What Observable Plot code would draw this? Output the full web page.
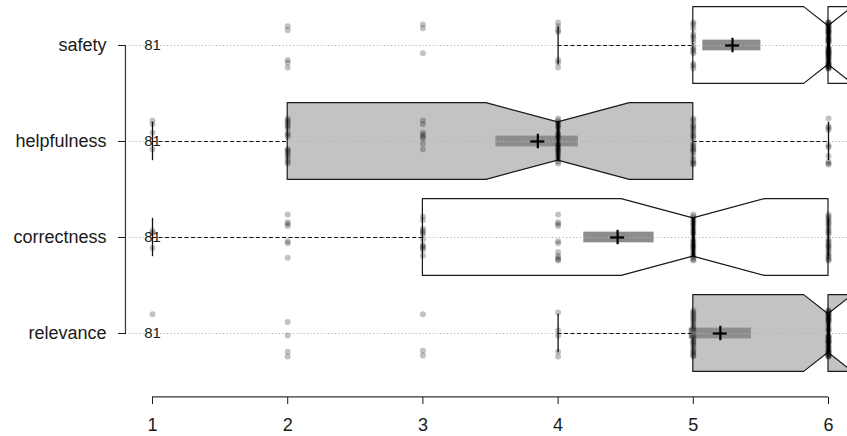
<!DOCTYPE html>
<html><head><meta charset="utf-8">
<script src="https://cdn.jsdelivr.net/npm/d3@7"></script>
<script src="https://cdn.jsdelivr.net/npm/@observablehq/plot@0.6"></script>
<style>
html,body{margin:0;padding:0;background:#fff;overflow:hidden;}
#chart{width:847px;height:436px;overflow:hidden;}
#chart svg g[aria-label="text"], #chart svg g[aria-label="text"] text{font-size:15px !important;}
</style></head><body><div id="chart"></div>
<script>
// ---- data ----
const categories = ["safety", "helpfulness", "correctness", "relevance"];
const scaleValues = [1, 2, 3, 4, 5, 6];
const countsSafety      = [0, 5, 3, 7, 14, 52];
const countsHelpfulness = [4, 17, 8, 21, 21, 10];
const countsCorrectness = [3, 7, 12, 11, 24, 24];
const countsRelevance   = [1, 4, 3, 5, 24, 44];
const q1        = [5, 2, 3, 5];
const medians   = [6, 4, 5, 6];
const q3        = [6, 5, 6, 6];
const whiskerLo = [4, 1, 1, 4];
const whiskerHi = [6, 6, 6, 6];
const notchLo   = [5.82, 3.47, 4.47, 5.82];
const notchHi   = [6.18, 4.53, 5.53, 6.18];
const means     = [5.29, 3.85, 4.44, 5.20];
const meanLo    = [5.07, 3.54, 4.19, 4.97];
const meanHi    = [5.50, 4.15, 4.71, 5.43];
const nLabels   = ["81", "81", "81", "81"];

// ---- styles / layout ----
const boxFills = ["#ffffff", "#c3c3c3", "#ffffff", "#c3c3c3"];
const BOX = 0.4, NOTCH = 0.2, STAPLE = 0.2, BAND = 0.056, CROSS_V = 0.075, CROSS_H = 0.052;
const jitterOffsets = [-0.22, 0.06, 0.18, -0.09, 0.24, -0.16, 0.11, -0.03, 0.21, -0.2, 0.08, -0.12, 0.15, -0.05, 0.02, -0.24, 0.13, -0.18, 0.04, 0.23, -0.07, 0.19, -0.14, 0.09];
const xAxisAt = 0.8, xRightEdge = 6.2, yAxisAt = 4.66;

const allCounts = [countsSafety, countsHelpfulness, countsCorrectness, countsRelevance];
const pos = categories.map((c, i) => i + 1);

const boxRows = [];
categories.forEach((c, i) => {
  const p = pos[i];
  [[q1[i], BOX], [notchLo[i], BOX], [medians[i], NOTCH], [notchHi[i], BOX], [q3[i], BOX]]
    .forEach(([x, hw]) => boxRows.push({cat: c, x, y1: p - hw, y2: p + hw, fill: boxFills[i]}));
});

const points = [];
categories.forEach((c, i) => {
  allCounts[i].forEach((k, vi) => {
    for (let j = 0; j < k; j++) {
      const off = jitterOffsets[(j * 7 + vi * 5 + i * 3) % jitterOffsets.length];
      points.push({cat: c, v: scaleValues[vi], y: pos[i] + off});
    }
  });
});

const rows = categories.map((c, i) => ({cat: c, i, p: pos[i]}));
const whiskers = [];
rows.forEach(r => {
  if (whiskerLo[r.i] < q1[r.i]) whiskers.push({p: r.p, x1: whiskerLo[r.i], x2: q1[r.i]});
  if (whiskerHi[r.i] > q3[r.i]) whiskers.push({p: r.p, x1: q3[r.i], x2: whiskerHi[r.i]});
});
const staples = [];
rows.forEach(r => {
  staples.push({p: r.p, x: whiskerLo[r.i]});
  staples.push({p: r.p, x: whiskerHi[r.i]});
});

const chart = Plot.plot({
  width: 847,
  height: 436,
  marginLeft: 126,
  marginRight: 0,
  marginTop: 0,
  marginBottom: 39,
  style: {fontFamily: "'Liberation Sans', Arial, Helvetica, sans-serif", fontSize: "18px", color: "#1a1a1a", background: "#fff"},
  x: {domain: [1, 6], range: [152, 828], ticks: scaleValues, tickFormat: d => String(d), tickSize: 7, tickPadding: 14, label: null},
  y: {domain: [1, 4], range: [45, 333], ticks: pos, tickFormat: d => categories[d - 1], tickSize: 8, tickPadding: 12, label: null},
  color: {type: "identity"},
  marks: [
    // notched boxes
    Plot.areaY(boxRows, {x: "x", y1: "y1", y2: "y2", z: "cat", fill: "fill", stroke: "#1a1a1a", strokeWidth: 1.2, clip: true}),
    // mean confidence band
    Plot.rect(rows, {x1: r => meanLo[r.i], x2: r => meanHi[r.i], y1: r => r.p - BAND, y2: r => r.p + BAND, fill: "#8c8c8c"}),
    // row guide lines
    Plot.ruleY(rows, {y: "p", x1: xAxisAt, x2: xRightEdge, stroke: "#b5b5b5", strokeWidth: 1, strokeDasharray: "1.2,2.3", clip: true}),
    // whiskers
    Plot.ruleY(whiskers, {y: "p", x1: "x1", x2: "x2", stroke: "#111", strokeWidth: 1, strokeDasharray: "4,2.5"}),
    Plot.ruleX(staples, {x: "x", y1: d => d.p - STAPLE, y2: d => d.p + STAPLE, stroke: "#111", strokeWidth: 1.3}),
    // jittered points
    Plot.dot(points, {x: "v", y: "y", r: 3, fill: "#000", fillOpacity: 0.24, stroke: null, clip: true}),
    // medians
    Plot.ruleX(rows, {x: r => medians[r.i], y1: r => r.p - NOTCH, y2: r => r.p + NOTCH, stroke: "#000", strokeWidth: 3, clip: true}),
    // mean crosses
    Plot.ruleX(rows, {x: r => means[r.i], y1: r => r.p - CROSS_V, y2: r => r.p + CROSS_V, stroke: "#000", strokeWidth: 2.2}),
    Plot.ruleY(rows, {y: "p", x1: r => means[r.i] - CROSS_H, x2: r => means[r.i] + CROSS_H, stroke: "#000", strokeWidth: 2.2}),
    // n labels
    Plot.text(rows, {x: () => scaleValues[0], y: "p", text: r => nLabels[r.i], fontSize: 15, fill: "#1a1a1a"}),
    // axis lines
    Plot.ruleX([xAxisAt], {y1: pos[0], y2: pos[pos.length - 1], stroke: "#333", strokeWidth: 1.2}),
    Plot.ruleY([yAxisAt], {x1: scaleValues[0], x2: scaleValues[scaleValues.length - 1], stroke: "#333", strokeWidth: 1.2})
  ]
});
document.getElementById("chart").appendChild(chart);
</script>
</body></html>
